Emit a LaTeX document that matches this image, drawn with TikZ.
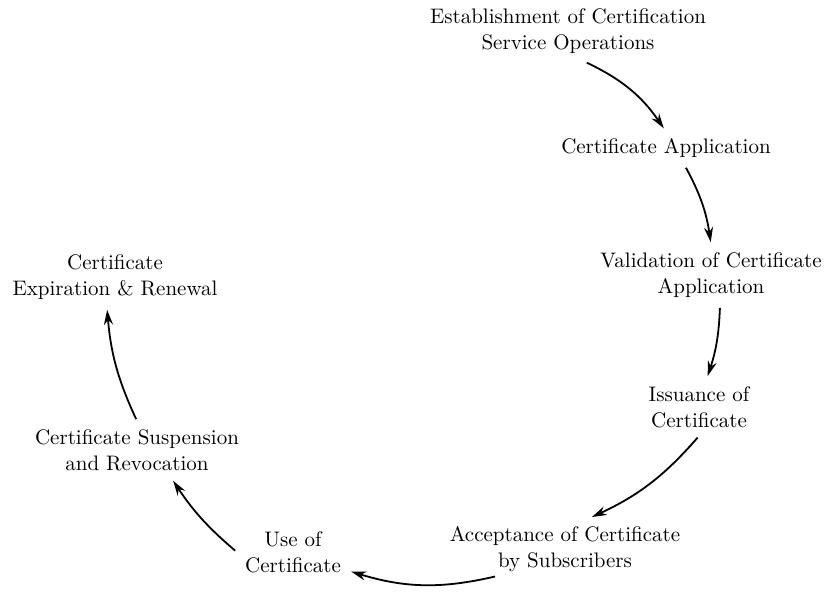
\documentclass[tikz,border=0pt]{standalone}
\usepackage{tikz}
\usetikzlibrary{arrows.meta}

\begin{document}
\begin{tikzpicture}[x=0.5pt,y=-0.5pt,>={Stealth[length=7.5pt,width=4.5pt]},font=\fontsize{10.5}{13}\selectfont]
  \tikzset{stage/.style={align=center, inner sep=4pt},
           flow/.style={->, line width=0.9pt, shorten >=1pt, shorten <=1pt}}
  \useasboundingbox (0,0) rectangle (827,592);
  % stages of the certificate life cycle
  \node[stage] (est) at (568,31) {Establishment of Certification\\Service Operations};
  \node[stage] (app) at (666,148) {Certificate Application};
  \node[stage] (val) at (711,275) {Validation of Certificate\\Application};
  \node[stage] (iss) at (699,407) {Issuance of\\Certificate};
  \node[stage] (acc) at (565,549) {Acceptance of Certificate\\by Subscribers};
  \node[stage] (use) at (293,552) {Use of\\Certificate};
  \node[stage] (sus) at (137,450) {Certificate Suspension\\and Revocation};
  \node[stage] (exp) at (115,277) {Certificate\\Expiration \& Renewal};
  % arrows around the cycle
  \draw[flow] ([xshift=8.5pt]est.south) to[bend left=15] ([xshift=-0.5pt]app.north);
  \draw[flow] ([xshift=9.5pt]app.south) to[bend left=10] (val.north);
  \draw[flow] ([xshift=4.5pt]val.south) to[bend left=8] ([xshift=4pt]iss.north);
  \draw[flow] (iss.south) to[bend left=12] ([xshift=12.5pt]acc.north);
  \draw[flow] ([xshift=-34pt,yshift=2pt]acc.south) to[bend left=15] ([yshift=5pt]use.south east);
  \draw[flow] (use.west) to[bend left=8] ([xshift=17.5pt]sus.south);
  \draw[flow] (sus.north) to[bend left=10] ([xshift=-4pt]exp.south);
\end{tikzpicture}
\end{document}
